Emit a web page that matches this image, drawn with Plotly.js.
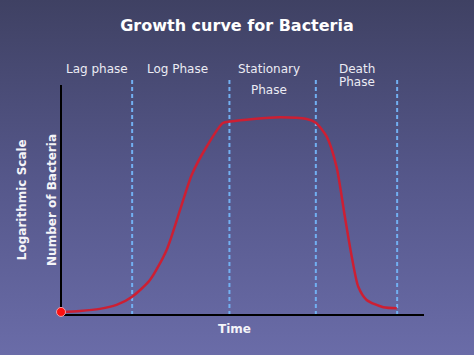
<!DOCTYPE html>
<html>
<head>
<meta charset="utf-8">
<script src="https://cdn.plot.ly/plotly-3.0.1.min.js"></script>
<style>
html,body{margin:0;padding:0;width:474px;height:355px;overflow:hidden;}
body{background:linear-gradient(to bottom,#3f4163 0%,#55578a 50%,#6a6ca8 100%);}
#chart{width:474px;height:355px;}
</style>
</head>
<body>
<div id="chart"></div>
<script>
// Time (arbitrary units) and number of bacteria (log scale, arbitrary units)
var time = [0, 5.2, 10.7, 15.3, 19.6, 24.5, 29.1, 32.8, 36.0, 40.1, 44.6, 46.6, 53, 60.3, 67.7, 70.2, 73.2, 75.9, 78.2, 80.1, 81.9, 84.2, 88.8, 92.5];
var bacteria = [1.3, 1.7, 2.6, 4.3, 7.8, 14.9, 27.7, 44.7, 59.6, 71.6, 81.7, 82.3, 83.4, 84.1, 83.4, 81.8, 75.9, 63.1, 41.8, 24.8, 12.0, 6.4, 3.3, 2.9];
var phaseBoundaries = [19.6, 46.4, 70.2, 92.6];
var phaseLabels = ["Lag phase", "Log Phase", "Stationary", "Phase", "Death", "Phase"];
var phaseLabelX = [9.8, 32.0, 57.4, 57.4, 81.6, 81.6];
var phaseLabelY = [69, 69, 69, 90, 69, 82];

var traces = [
  {x: time, y: bacteria, type: 'scatter', mode: 'lines',
   line: {color: '#cc1f33', width: 2.5, shape: 'spline', smoothing: 0.7},
   hoverinfo: 'skip', cliponaxis: false},
  {x: [time[0]], y: [bacteria[0]], type: 'scatter', mode: 'markers',
   marker: {color: '#ff1010', size: 9, line: {color: '#f0a0a8', width: 1}},
   hoverinfo: 'skip', cliponaxis: false}
];

var shapes = phaseBoundaries.map(function(b){
  return {type: 'line', xref: 'x', yref: 'paper', x0: b, x1: b, y0: 0, y1: 1.022, layer: 'below',
          line: {color: '#72b0f2', width: 2, dash: '4px,3px'}};
});
shapes.push({type: 'line', xref: 'paper', yref: 'paper', x0: 0, x1: 1, y0: 0, y1: 0, layer: 'below',
             line: {color: '#000000', width: 2}});
shapes.push({type: 'line', xref: 'paper', yref: 'paper', x0: 0, x1: 0, y0: 0, y1: 1, layer: 'below',
             line: {color: '#000000', width: 2}});

var annotations = [];
for (var i = 0; i < phaseLabels.length; i++) {
  annotations.push({x: phaseLabelX[i], y: (315 - phaseLabelY[i]) / 230, xref: 'x', yref: 'paper',
    text: phaseLabels[i], showarrow: false, xanchor: 'center', yanchor: 'middle',
    font: {family: 'DejaVu Sans', size: 12, color: '#ececf4'}});
}
annotations.push({x: -0.107, y: 0.5, xref: 'paper', yref: 'paper', text: '<b>Logarithmic Scale</b>',
  textangle: -90, showarrow: false, xanchor: 'center', yanchor: 'middle',
  font: {family: 'DejaVu Sans', size: 12, color: '#f4f4f8'}});
annotations.push({x: -0.025, y: 0.5, xref: 'paper', yref: 'paper', text: '<b>Number of Bacteria</b>',
  textangle: -90, showarrow: false, xanchor: 'center', yanchor: 'middle',
  font: {family: 'DejaVu Sans', size: 12, color: '#f4f4f8'}});
annotations.push({x: 0.479, y: -14 / 230, xref: 'paper', yref: 'paper', text: '<b>Time</b>',
  showarrow: false, xanchor: 'center', yanchor: 'middle',
  font: {family: 'DejaVu Sans', size: 12, color: '#f4f4f8'}});

var layout = {
  width: 474, height: 355,
  paper_bgcolor: 'rgba(0,0,0,0)', plot_bgcolor: 'rgba(0,0,0,0)',
  margin: {l: 61, r: 50, t: 85, b: 40},
  showlegend: false,
  title: {text: '<b>Growth curve for Bacteria</b>', x: 0.5, xanchor: 'center', y: 1 - 25 / 355, yanchor: 'middle',
          font: {family: 'DejaVu Sans', size: 16, color: '#ffffff'}},
  xaxis: {range: [0, 100], showgrid: false, zeroline: false, showticklabels: false, ticks: '', showline: false, fixedrange: true},
  yaxis: {range: [0, 97.87], showgrid: false, zeroline: false, showticklabels: false, ticks: '', showline: false, fixedrange: true},
  shapes: shapes,
  annotations: annotations
};

Plotly.newPlot('chart', traces, layout, {displayModeBar: false, staticPlot: true});
</script>
</body>
</html>
